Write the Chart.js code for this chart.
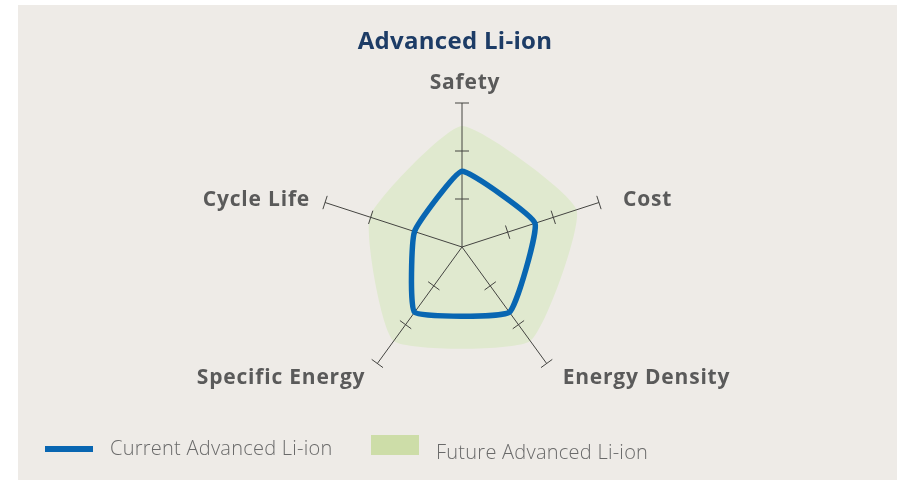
<!DOCTYPE html>
<html>
<head>
<meta charset="utf-8">
<script src="https://cdn.jsdelivr.net/npm/chart.js@4.4.0/dist/chart.umd.min.js"></script>
<style>
  html, body { margin: 0; padding: 0; background: #ffffff; }
  #panel {
    position: absolute;
    left: 18px;
    top: 5px;
    width: 879px;
    height: 475px;
    background: #eeebe7;
  }
</style>
</head>
<body>
<div id="panel"><canvas id="radar"></canvas></div>
<script>
const title = "Advanced Li-ion";
const categories = ["Safety", "Cost", "Energy Density", "Specific Energy", "Cycle Life"];
const currentValues = [1.58, 1.6, 1.68, 1.68, 1.04];
const futureValues = [2.52, 2.51, 2.42, 2.42, 2.02];
const tickValues = [1, 2, 3];
const scaleMax = 3;

// label placement around the end of each axis: [dx, dy, align]
const labelPlacement = [
  [3, -20, "center"],
  [24, -2, "left"],
  [16, 15, "left"],
  [-12, 15, "right"],
  [-15, -2, "right"],
];

const FONT = "'Open Sans', sans-serif";

// axis spokes with small cross ticks, drawn between the green area and the blue outline
const spokes = {
  id: "spokes",
  beforeDatasetDraw(chart, args) {
    if (args.index !== 0) return;
    const r = chart.scales.r;
    const ctx = chart.ctx;
    ctx.save();
    ctx.strokeStyle = "#444441";
    ctx.lineWidth = 1;
    categories.forEach((_, i) => {
      const end = r.getPointPositionForValue(i, scaleMax);
      ctx.beginPath();
      ctx.moveTo(r.xCenter, r.yCenter);
      ctx.lineTo(end.x, end.y);
      ctx.stroke();
      tickValues.forEach(v => {
        const p = r.getPointPositionForValue(i, v);
        const nx = -Math.sin(p.angle) * 7;
        const ny = Math.cos(p.angle) * 7;
        ctx.beginPath();
        ctx.moveTo(p.x - nx, p.y - ny);
        ctx.lineTo(p.x + nx, p.y + ny);
        ctx.stroke();
      });
    });
    ctx.restore();
  },
  afterDraw(chart) {
    const r = chart.scales.r;
    const ctx = chart.ctx;
    ctx.save();
    ctx.textBaseline = "middle";

    // title
    ctx.fillStyle = "#1d3c66";
    ctx.font = "bold 24px " + FONT;
    ctx.letterSpacing = "0.3px";
    ctx.textAlign = "center";
    ctx.fillText(title, 437, 37);

    // axis names
    ctx.fillStyle = "#5a5a5a";
    ctx.font = "bold 21px " + FONT;
    ctx.letterSpacing = "0.8px";
    categories.forEach((name, i) => {
      const end = r.getPointPositionForValue(i, scaleMax);
      const [dx, dy, align] = labelPlacement[i];
      ctx.textAlign = align;
      ctx.fillText(name, end.x + dx, end.y + dy);
    });

    // legend
    const ds = chart.data.datasets;
    ctx.font = "300 20px " + FONT;
    ctx.letterSpacing = "0.25px";
    ctx.textAlign = "left";
    ctx.fillStyle = ds[0].borderColor;
    ctx.fillRect(27, 441, 48, 6);
    ctx.fillStyle = "#6a6a6a";
    ctx.fillText(ds[0].label, 92, 444);
    ctx.fillStyle = "#cddda8";
    ctx.fillRect(353, 430, 48, 20);
    ctx.fillStyle = "#6a6a6a";
    ctx.fillText(ds[1].label, 418, 448);
    ctx.restore();
  }
};

new Chart(document.getElementById("radar"), {
  type: "radar",
  data: {
    labels: categories,
    datasets: [
      {
        label: "Current Advanced Li-ion",
        data: currentValues,
        borderColor: "#0866b2",
        borderWidth: 5.5,
        borderJoinStyle: "round",
        backgroundColor: "transparent",
        fill: false,
        tension: 0.12,
        pointRadius: 0,
      },
      {
        label: "Future Advanced Li-ion",
        data: futureValues,
        borderWidth: 0,
        backgroundColor: "#e0e9cf",
        fill: true,
        tension: 0.16,
        pointRadius: 0,
      },
    ],
  },
  options: {
    responsive: true,
    maintainAspectRatio: false,
    animation: false,
    layout: { padding: { top: 98, bottom: 89, left: 150, right: 141 } },
    plugins: {
      legend: { display: false },
      title: { display: false },
      tooltip: { enabled: false },
    },
    scales: {
      r: {
        min: 0,
        max: scaleMax,
        ticks: { display: false, stepSize: 1 },
        grid: { display: false },
        angleLines: { display: false },
        pointLabels: { display: false },
      },
    },
  },
  plugins: [spokes],
});
</script>
</body>
</html>
